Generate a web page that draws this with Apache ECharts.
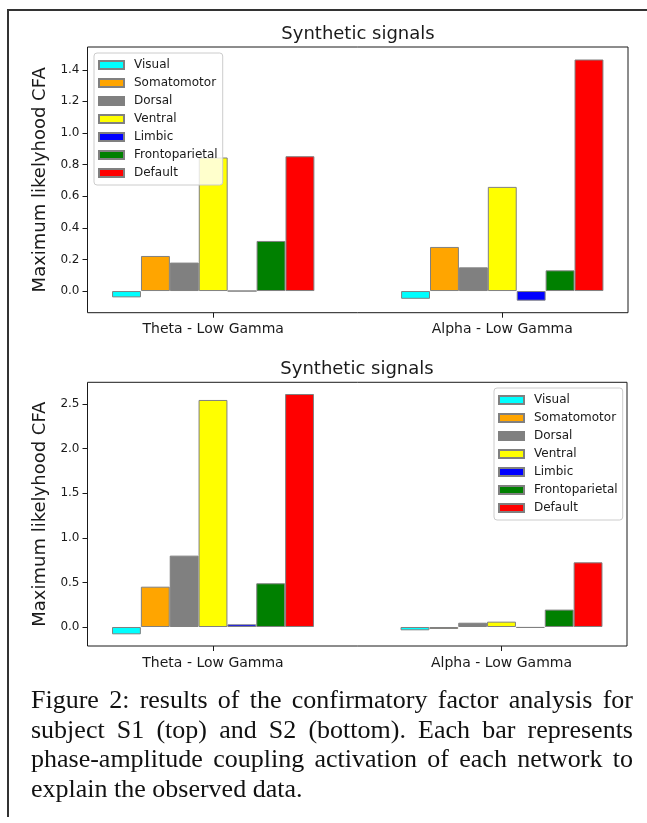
<!DOCTYPE html>
<html>
<head>
<meta charset="utf-8">
<script src="https://cdn.jsdelivr.net/npm/echarts@6/dist/echarts.min.js"></script>
<style>
  html, body { margin: 0; padding: 0; background: #fff; }
  #wrap { position: relative; width: 647px; height: 823px; overflow: hidden; }
  #chart { position: absolute; left: 0; top: 0; width: 647px; height: 823px; }
  #frame { position: absolute; left: 7px; top: 9px; width: 700px; height: 806px;
           border-top: 2px solid #333; border-left: 2px solid #333; pointer-events: none; }
  #caption { position: absolute; left: 31px; top: 685px; width: 602px;
             font-family: "Liberation Serif", "Times New Roman", serif; font-size: 26px;
             line-height: 29.7px; text-align: justify; color: #111; }
</style>
</head>
<body>
<div id="wrap">
  <div id="chart"></div>
  <div id="frame"></div>
  <div id="caption">Figure 2: results of the confirmatory factor analysis for subject S1 (top) and S2 (bottom). Each bar represents phase-amplitude coupling activation of each network to explain the observed data.</div>
</div>
<script>
const categories = ['Theta - Low Gamma', 'Alpha - Low Gamma'];
const networks = ['Visual', 'Somatomotor', 'Dorsal', 'Ventral', 'Limbic', 'Frontoparietal', 'Default'];
const colors = ['#00ffff', '#ffa500', '#808080', '#ffff00', '#0000ff', '#008000', '#ff0000'];

// Subject S1 (top)
const s1Theta = [-0.040, 0.222, 0.180, 0.845, 0.000, 0.317, 0.853];
const s1Alpha = [-0.049, 0.279, 0.150, 0.659, -0.061, 0.131, 1.465];
// Subject S2 (bottom)
const s2Theta = [-0.082, 0.452, 0.800, 2.545, 0.030, 0.490, 2.612];
const s2Alpha = [-0.037, -0.022, 0.048, 0.060, -0.010, 0.195, 0.725];

const s1Ticks = [0.0, 0.2, 0.4, 0.6, 0.8, 1.0, 1.2, 1.4];
const s2Ticks = [0.0, 0.5, 1.0, 1.5, 2.0, 2.5];
const catTicks = [0, 1];

const FONT = '"DejaVu Sans", sans-serif';
const INK = '#1a1a1a';

const chart = echarts.init(document.getElementById('chart'), null, { renderer: 'canvas' });

function xAxisFor(gridIndex) {
  return {
    type: 'value', gridIndex: gridIndex, min: -0.435, max: 1.435,
    axisLine: { show: false, onZero: false },
    splitLine: { show: false },
    axisTick: { show: true, length: 5, customValues: catTicks, lineStyle: { color: INK, width: 1 } },
    axisLabel: { customValues: catTicks, formatter: v => categories[Math.round(v)] || '',
                 margin: 10, fontSize: 14, fontFamily: FONT, color: INK }
  };
}
function yAxisFor(gridIndex, min, max, ticks) {
  return {
    type: 'value', gridIndex: gridIndex, min: min, max: max,
    axisLine: { show: false, onZero: false },
    splitLine: { show: false },
    axisTick: { show: true, length: 5, customValues: ticks, lineStyle: { color: INK, width: 1 } },
    axisLabel: { customValues: ticks, formatter: v => Number(v).toFixed(1),
                 margin: 8, fontSize: 12, fontFamily: FONT, color: INK },
    name: 'Maximum likelyhood CFA', nameLocation: 'middle', nameGap: 35,
    nameTextStyle: { fontSize: 18, fontFamily: FONT, color: INK }
  };
}
function legendFor(left, top) {
  return {
    orient: 'vertical', left: left, top: top, data: networks, selectedMode: false,
    icon: 'rect', itemWidth: 25, itemHeight: 8, itemGap: 4,
    padding: [5, 5, 5, 4],
    backgroundColor: 'rgba(255,255,255,0.8)', borderColor: '#cccccc', borderWidth: 1, borderRadius: 3,
    textStyle: { fontSize: 12, fontFamily: FONT, color: INK, lineHeight: 14, padding: [0, 0, 0, 5] }
  };
}

const series = [];
[[s1Theta, s1Alpha], [s2Theta, s2Alpha]].forEach((pair, g) => {
  networks.forEach((name, j) => {
    series.push({
      type: 'bar', name: name, xAxisIndex: g, yAxisIndex: g,
      data: pair.map((arr, ci) => [ci, arr[j]]),
      barGap: '0%', barCategoryGap: '30%',
      itemStyle: { color: colors[j], borderColor: '#808080', borderWidth: 1 },
      emphasis: { disabled: true },
      animation: false
    });
  });
});

chart.setOption({
  backgroundColor: '#ffffff',
  animation: false,
  grid: [
    { left: 87.5, right: 19, top: 47, height: 265.7, show: true, borderColor: INK, borderWidth: 1, backgroundColor: 'transparent' },
    { left: 87.5, right: 20, top: 382.3, height: 263.7, show: true, borderColor: INK, borderWidth: 1, backgroundColor: 'transparent' }
  ],
  xAxis: [xAxisFor(0), xAxisFor(1)],
  yAxis: [yAxisFor(0, -0.137, 1.544, s1Ticks), yAxisFor(1, -0.213, 2.743, s2Ticks)],
  legend: [legendFor(94, 53), legendFor(494, 388)],
  graphic: [
    { type: 'text', x: 358, y: 34, style: { text: 'Synthetic signals', font: '18px ' + FONT, fill: INK,
      textAlign: 'center', textVerticalAlign: 'middle', align: 'center', verticalAlign: 'middle' } },
    { type: 'text', x: 357, y: 369, style: { text: 'Synthetic signals', font: '18px ' + FONT, fill: INK,
      textAlign: 'center', textVerticalAlign: 'middle', align: 'center', verticalAlign: 'middle' } }
  ],
  series: series
});
</script>
</body>
</html>
